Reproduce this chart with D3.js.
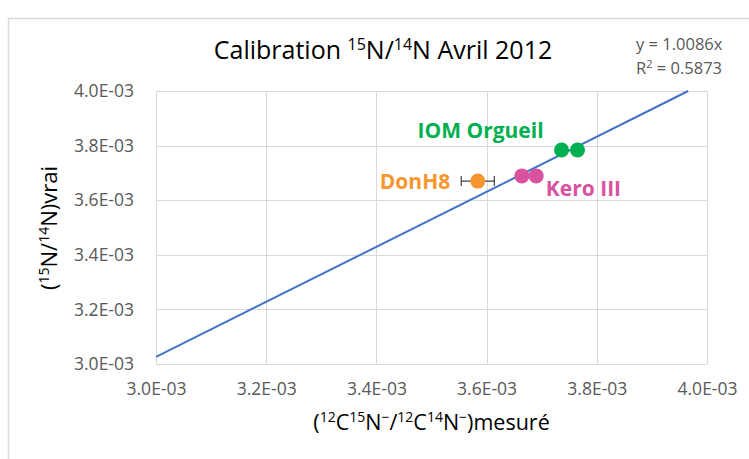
<!DOCTYPE html>
<html>
<head>
<meta charset="utf-8">
<script src="https://cdn.jsdelivr.net/npm/d3@7"></script>
<style>
  html, body { margin: 0; padding: 0; background: #fff; }
  svg { display: block; font-family: "Open Sans", "Noto Sans", sans-serif; }
</style>
</head>
<body>
<svg id="chart" width="749" height="459"></svg>
<script>
// Calibration samples: measured ratio (x) vs. true ratio (y)
const sampleNames = ["DonH8", "Kero III", "Kero III", "IOM Orgueil", "IOM Orgueil"];
const measured    = [3.584e-3, 3.664e-3, 3.690e-3, 3.736e-3, 3.765e-3];
const trueRatio   = [3.670e-3, 3.689e-3, 3.689e-3, 3.784e-3, 3.784e-3];
const xError      = [0.03e-3, 0, 0, 0, 0];
const sampleColors = { "DonH8": "#F7962F", "Kero III": "#D9529F", "IOM Orgueil": "#00B050" };

// Axis ticks
const xTicks = [3.0e-3, 3.2e-3, 3.4e-3, 3.6e-3, 3.8e-3, 4.0e-3];
const yTicks = [3.0e-3, 3.2e-3, 3.4e-3, 3.6e-3, 3.8e-3, 4.0e-3];

// Linear fit through the origin
const slope = 1.0086;
const rSquared = 0.5873;

const svg = d3.select("#chart");
const plot = { left: 156, right: 707, top: 91, bottom: 364 };

const x = d3.scaleLinear().domain([3.0e-3, 4.0e-3]).range([plot.left, plot.right]);
const y = d3.scaleLinear().domain([3.0e-3, 4.0e-3]).range([plot.bottom, plot.top]);
const fmt = v => (v * 1000).toFixed(1) + "E-03";

// Chart frame
svg.append("rect")
  .attr("x", 8.5).attr("y", 18.5)
  .attr("width", 760).attr("height", 460)
  .attr("fill", "none").attr("stroke", "#d9d9d9").attr("stroke-width", 1.5);

// Gridlines
const grid = svg.append("g").attr("stroke", "#d9d9d9").attr("stroke-width", 1);
grid.selectAll(".vx").data(xTicks).join("line")
  .attr("x1", d => Math.round(x(d)) + 0.5).attr("x2", d => Math.round(x(d)) + 0.5)
  .attr("y1", plot.top).attr("y2", plot.bottom);
grid.selectAll(".hy").data(yTicks).join("line")
  .attr("y1", d => Math.round(y(d)) + 0.5).attr("y2", d => Math.round(y(d)) + 0.5)
  .attr("x1", plot.left).attr("x2", plot.right);

// Axes (labels only, lines drawn by the grid)
const xAxis = svg.append("g")
  .attr("transform", `translate(0,${plot.bottom + 13})`)
  .call(d3.axisBottom(x).tickValues(xTicks).tickFormat(fmt).tickSize(0));
const yAxis = svg.append("g")
  .attr("transform", `translate(${plot.left - 19},0)`)
  .call(d3.axisLeft(y).tickValues(yTicks).tickFormat(fmt).tickSize(0));
[xAxis, yAxis].forEach(a => {
  a.select(".domain").remove();
  a.selectAll("text")
    .attr("fill", "#595959")
    .style("font-family", "'Open Sans', sans-serif")
    .style("font-size", "17.5px");
});
xAxis.selectAll("text").attr("dy", "0.85em");

// Trendline y = slope * x, clipped to the plot area
const xEnd = Math.min(4.0e-3, 4.0e-3 / slope);
svg.append("line")
  .attr("x1", x(3.0e-3)).attr("y1", y(slope * 3.0e-3))
  .attr("x2", x(xEnd)).attr("y2", y(slope * xEnd))
  .attr("stroke", "#4472C4").attr("stroke-width", 2);

// Error bars
const eb = svg.append("g").attr("stroke", "#404040").attr("stroke-width", 1.2);
measured.forEach((m, i) => {
  if (!xError[i]) return;
  const cy = y(trueRatio[i]);
  eb.append("line").attr("x1", x(m - xError[i])).attr("x2", x(m + xError[i]))
    .attr("y1", cy).attr("y2", cy);
  [m - xError[i], m + xError[i]].forEach(e => {
    eb.append("line").attr("x1", x(e)).attr("x2", x(e))
      .attr("y1", cy - 5).attr("y2", cy + 5);
  });
});

// Points
svg.append("g").selectAll("circle")
  .data(measured.map((m, i) => ({ m, t: trueRatio[i], name: sampleNames[i] })))
  .join("circle")
  .attr("cx", d => x(d.m)).attr("cy", d => y(d.t))
  .attr("r", 7.5)
  .attr("fill", d => sampleColors[d.name]);

// Sample labels
const labels = [
  { name: "IOM Orgueil", dx: -144, dy: -12 },
  { name: "DonH8", dx: -98, dy: 8 },
  { name: "Kero III", dx: 24, dy: 20 }
];
labels.forEach(l => {
  const i = sampleNames.indexOf(l.name);
  svg.append("text")
    .attr("x", x(measured[i]) + l.dx)
    .attr("y", y(trueRatio[i]) + l.dy)
    .attr("fill", sampleColors[l.name])
    .style("font-weight", "bold")
    .style("font-size", "21px")
    .text(l.name);
});

// Title
const title = svg.append("text")
  .attr("x", 383).attr("y", 59)
  .attr("text-anchor", "middle")
  .attr("fill", "#000")
  .style("font-size", "25px");
title.append("tspan").text("Calibration ");
title.append("tspan").attr("dy", -9).style("font-size", "16px").text("15");
title.append("tspan").attr("dy", 9).text("N/");
title.append("tspan").attr("dy", -9).style("font-size", "16px").text("14");
title.append("tspan").attr("dy", 9).text("N Avril 2012");

// Fit equation
const eq = svg.append("g").attr("fill", "#595959").style("font-size", "16.5px");
eq.append("text").attr("x", 636).attr("y", 50).text(`y = ${slope}x`);
const r2 = eq.append("text").attr("x", 636).attr("y", 74);
r2.append("tspan").text("R");
r2.append("tspan").attr("dy", -6).style("font-size", "11px").text("2");
r2.append("tspan").attr("dy", 6).text(` = ${rSquared}`);

// X axis title
const xt = svg.append("text")
  .attr("x", (plot.left + plot.right) / 2).attr("y", 430)
  .attr("text-anchor", "middle").attr("fill", "#000")
  .style("font-size", "21.5px");
const sup = (t, s) => {
  t.append("tspan").attr("dy", -8).style("font-size", "14px").text(s);
};
xt.append("tspan").text("(");
sup(xt, "12");
xt.append("tspan").attr("dy", 8).text("C");
sup(xt, "15");
xt.append("tspan").attr("dy", 8).text("N");
sup(xt, "−");
xt.append("tspan").attr("dy", 8).text("/");
sup(xt, "12");
xt.append("tspan").attr("dy", 8).text("C");
sup(xt, "14");
xt.append("tspan").attr("dy", 8).text("N");
sup(xt, "−");
xt.append("tspan").attr("dy", 8).text(")mesuré");

// Y axis title
const yt = svg.append("text")
  .attr("transform", "translate(57,228) rotate(-90)")
  .attr("text-anchor", "middle").attr("fill", "#000")
  .style("font-size", "22px");
yt.append("tspan").text("(");
sup(yt, "15");
yt.append("tspan").attr("dy", 8).text("N/");
sup(yt, "14");
yt.append("tspan").attr("dy", 8).text("N)vrai");
</script>
</body>
</html>
